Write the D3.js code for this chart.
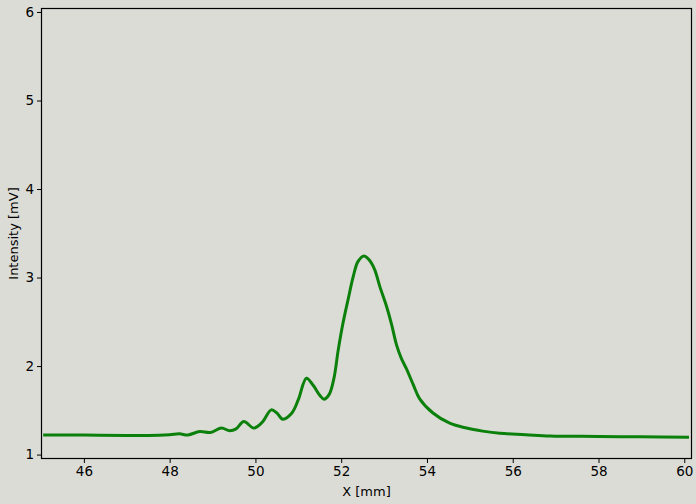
<!DOCTYPE html>
<html><head><meta charset="utf-8">
<script src="https://cdn.jsdelivr.net/npm/d3@7"></script>
<style>body{margin:0;background:#dcdcd6;} svg{display:block;}</style>
</head><body>
<svg id="c" width="696" height="504"></svg>
<script>
const xValues = [45.05, 46, 47, 47.5, 48, 48.23, 48.43, 48.7, 48.95, 49.21, 49.4, 49.55, 49.73, 49.96, 50.15, 50.37, 50.5, 50.64, 50.85, 51.0, 51.19, 51.35, 51.5, 51.6, 51.72, 51.83, 51.93, 52.04, 52.16, 52.28, 52.39, 52.53, 52.65, 52.78, 52.90, 53.06, 53.17, 53.29, 53.4, 53.52, 53.68, 53.83, 54.14, 54.53, 54.92, 55.3, 55.7, 56.3, 56.87, 58, 59, 60.11];
const intensity = [1.22, 1.22, 1.215, 1.215, 1.225, 1.234, 1.222, 1.26, 1.25, 1.30, 1.268, 1.29, 1.373, 1.30, 1.36, 1.505, 1.47, 1.40, 1.47, 1.62, 1.863, 1.78, 1.67, 1.626, 1.68, 1.86, 2.18, 2.48, 2.75, 3.01, 3.18, 3.244, 3.20, 3.09, 2.90, 2.67, 2.48, 2.24, 2.09, 1.97, 1.79, 1.63, 1.47, 1.355, 1.30, 1.265, 1.24, 1.225, 1.21, 1.205, 1.20, 1.195];
const xTicks = [46, 48, 50, 52, 54, 56, 58, 60];
const yTicks = [1, 2, 3, 4, 5, 6];

const svg = d3.select("#c");
const L = 41, R = 692, T = 8, B = 459;
const x = d3.scaleLinear().domain([45, 60.18]).range([L, R]);
const y = d3.scaleLinear().domain([0.95, 6.045]).range([B, T]);
const font = "DejaVu Sans, sans-serif";

svg.append("rect").attr("width",696).attr("height",504).attr("fill","#dcdcd6");

const data = xValues.map((v,i)=>[v, intensity[i]]);
svg.append("path").datum(data)
  .attr("fill","none").attr("stroke","#0b800b").attr("stroke-width",3)
  .attr("stroke-linejoin","round")
  .attr("d", d3.line().x(d=>x(d[0])).y(d=>y(d[1])).curve(d3.curveCatmullRom.alpha(0.5)));

svg.append("rect").attr("x",L+0.5).attr("y",T+0.5).attr("width",R-L-1).attr("height",B-T-1)
  .attr("fill","none").attr("stroke","#000").attr("stroke-width",1.2);

const xa = svg.append("g").attr("transform",`translate(0,${B})`)
  .call(d3.axisBottom(x).tickValues(xTicks).tickSize(4).tickPadding(3).tickFormat(d3.format("d")));
const ya = svg.append("g").attr("transform",`translate(${L},0)`)
  .call(d3.axisLeft(y).tickValues(yTicks).tickSize(4).tickPadding(3).tickFormat(d3.format("d")));
[xa,ya].forEach(a=>{
  a.select(".domain").remove();
  a.selectAll("text").attr("font-family",font).attr("font-size",13.5).attr("fill","#000");
  a.selectAll("line").attr("stroke","#000");
});

svg.append("text").attr("x",(L+R)/2).attr("y",496).attr("text-anchor","middle")
  .attr("font-family",font).attr("font-size",13).attr("fill","#000").text("X [mm]");
svg.append("text").attr("transform",`translate(18,${(T+B)/2}) rotate(-90)`).attr("text-anchor","middle")
  .attr("font-family",font).attr("font-size",13).attr("fill","#000").text("Intensity [mV]");
</script>
</body></html>
